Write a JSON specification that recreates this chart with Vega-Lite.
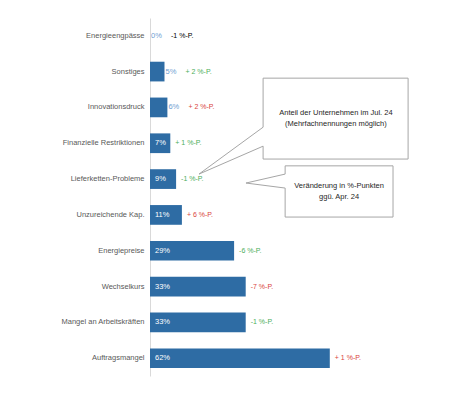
{
  "$schema": "https://vega.github.io/schema/vega-lite/v6.json",
  "autosize": "none",
  "width": 290,
  "height": 358,
  "padding": {"left": 150, "top": 18, "right": 10, "bottom": 19},
  "background": "white",
  "config": {
    "font": "Liberation Sans, Arial, sans-serif",
    "view": {"stroke": null}
  },
  "datasets": {
    "bars": [
      {"grund": "Energieengpässe", "anteil": 0, "veraenderung": "-1 %-P.", "ton": "neutral"},
      {"grund": "Sonstiges", "anteil": 5, "veraenderung": "+ 2 %-P.", "ton": "gruen"},
      {"grund": "Innovationsdruck", "anteil": 6, "veraenderung": "+ 2 %-P.", "ton": "rot"},
      {"grund": "Finanzielle Restriktionen", "anteil": 7, "veraenderung": "+ 1 %-P.", "ton": "gruen"},
      {"grund": "Lieferketten-Probleme", "anteil": 9, "veraenderung": "-1 %-P.", "ton": "gruen"},
      {"grund": "Unzureichende Kap.", "anteil": 11, "veraenderung": "+ 6 %-P.", "ton": "rot"},
      {"grund": "Energiepreise", "anteil": 29, "veraenderung": "-6 %-P.", "ton": "gruen"},
      {"grund": "Wechselkurs", "anteil": 33, "veraenderung": "-7 %-P.", "ton": "rot"},
      {"grund": "Mangel an Arbeitskräften", "anteil": 33, "veraenderung": "-1 %-P.", "ton": "gruen"},
      {"grund": "Auftragsmangel", "anteil": 62, "veraenderung": "+ 1 %-P.", "ton": "rot"}
    ],
    "bubbles": [
      {"form": "a", "ord": 1, "px": 39, "py": 1.68},
      {"form": "a", "ord": 2, "px": 89, "py": 1.68},
      {"form": "a", "ord": 3, "px": 89, "py": 3.94},
      {"form": "a", "ord": 4, "px": 39, "py": 3.94},
      {"form": "a", "ord": 5, "px": 39, "py": 3.58},
      {"form": "a", "ord": 6, "px": 16.9, "py": 4.36},
      {"form": "a", "ord": 7, "px": 39, "py": 3.05},
      {"form": "a", "ord": 8, "px": 39, "py": 1.68},
      {"form": "b", "ord": 1, "px": 46.6, "py": 4.13},
      {"form": "b", "ord": 2, "px": 83.8, "py": 4.13},
      {"form": "b", "ord": 3, "px": 83.8, "py": 5.56},
      {"form": "b", "ord": 4, "px": 46.6, "py": 5.56},
      {"form": "b", "ord": 5, "px": 46.6, "py": 4.75},
      {"form": "b", "ord": 6, "px": 33.1, "py": 4.61},
      {"form": "b", "ord": 7, "px": 46.6, "py": 4.36},
      {"form": "b", "ord": 8, "px": 46.6, "py": 4.13}
    ],
    "notes": [
      {"txt": "Anteil der Unternehmen im Jul. 24", "px": 64.1, "py": 2.66},
      {"txt": "(Mehrfachnennungen möglich)", "px": 64.1, "py": 2.95},
      {"txt": "Veränderung in %-Punkten", "px": 65.2, "py": 4.7},
      {"txt": "ggü. Apr. 24", "px": 65.2, "py": 4.99}
    ]
  },
  "resolve": {"scale": {"y": "independent"}},
  "layer": [
    {
      "data": {"name": "bars"},
      "transform": [{"calculate": "datum.anteil + '%'", "as": "anteilText"}],
      "layer": [
        {
          "mark": {"type": "bar", "color": "#2e6ca4"},
          "encoding": {
            "y": {
              "field": "grund", "type": "nominal", "sort": null,
              "scale": {"paddingInner": 0.45, "paddingOuter": 0.22},
              "axis": {
                "title": null, "ticks": false, "labelPadding": 6,
                "labelFontSize": 7.5, "labelColor": "#595959",
                "domainColor": "#d9d9d9", "domainWidth": 1
              }
            },
            "x": {
              "field": "anteil", "type": "quantitative",
              "scale": {"domain": [0, 100], "nice": false},
              "axis": null
            }
          }
        },
        {
          "transform": [{"filter": "datum.anteil >= 7"}],
          "mark": {"type": "text", "align": "left", "dx": 5, "fontSize": 7.5, "color": "white"},
          "encoding": {
            "y": {"field": "grund", "type": "nominal", "sort": null},
            "x": {"datum": 0, "type": "quantitative"},
            "text": {"field": "anteilText", "type": "nominal"}
          }
        },
        {
          "transform": [{"filter": "datum.anteil < 7"}],
          "mark": {"type": "text", "align": "left", "dx": 1, "fontSize": 7.5, "color": "#6fa0d2"},
          "encoding": {
            "y": {"field": "grund", "type": "nominal", "sort": null},
            "x": {"field": "anteil", "type": "quantitative"},
            "text": {"field": "anteilText", "type": "nominal"}
          }
        },
        {
          "transform": [{"filter": "datum.anteil >= 7"}],
          "mark": {"type": "text", "align": "left", "dx": 5, "fontSize": 7},
          "encoding": {
            "y": {"field": "grund", "type": "nominal", "sort": null},
            "x": {"field": "anteil", "type": "quantitative"},
            "text": {"field": "veraenderung", "type": "nominal"},
            "color": {
              "field": "ton", "type": "nominal", "legend": null,
              "scale": {"domain": ["neutral", "gruen", "rot"], "range": ["#000000", "#4cae5a", "#d9443d"]}
            }
          }
        },
        {
          "transform": [{"filter": "datum.anteil < 7"}],
          "mark": {"type": "text", "align": "left", "dx": 21, "fontSize": 7},
          "encoding": {
            "y": {"field": "grund", "type": "nominal", "sort": null},
            "x": {"field": "anteil", "type": "quantitative"},
            "text": {"field": "veraenderung", "type": "nominal"},
            "color": {
              "field": "ton", "type": "nominal", "legend": null,
              "scale": {"domain": ["neutral", "gruen", "rot"], "range": ["#000000", "#4cae5a", "#d9443d"]}
            }
          }
        }
      ]
    },
    {
      "data": {"name": "bubbles"},
      "mark": {"type": "line", "color": "#a6a6a6", "strokeWidth": 1, "strokeJoin": "miter"},
      "encoding": {
        "x": {"field": "px", "type": "quantitative"},
        "y": {"field": "py", "type": "quantitative", "scale": {"domain": [0, 10], "reverse": true, "nice": false, "zero": false}, "axis": null},
        "detail": {"field": "form"},
        "order": {"field": "ord"}
      }
    },
    {
      "data": {"name": "notes"},
      "mark": {"type": "text", "align": "center", "fontSize": 7.5, "color": "#262626"},
      "encoding": {
        "x": {"field": "px", "type": "quantitative"},
        "y": {"field": "py", "type": "quantitative", "scale": {"domain": [0, 10], "reverse": true, "nice": false, "zero": false}, "axis": null},
        "text": {"field": "txt"}
      }
    }
  ]
}
